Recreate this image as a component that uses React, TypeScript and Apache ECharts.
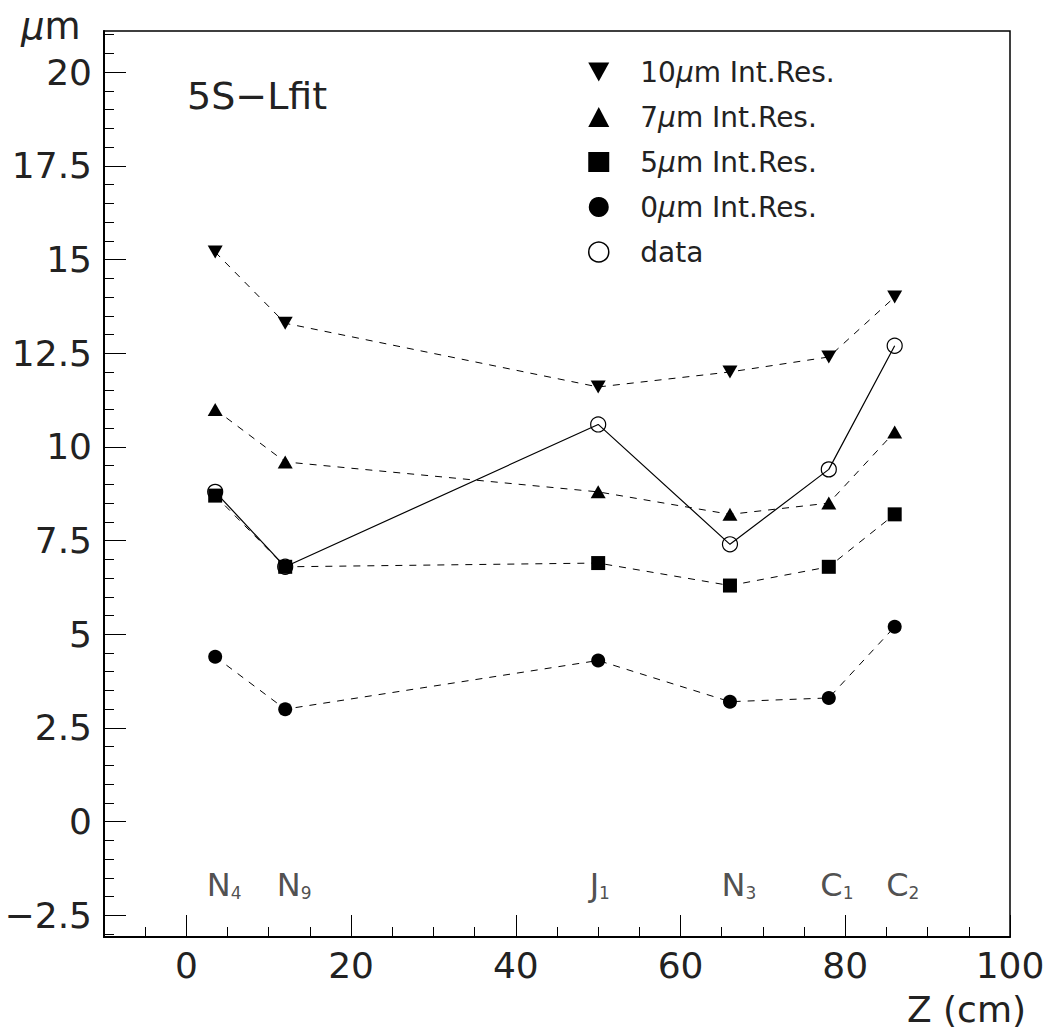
import React, { useEffect, useRef } from "react";
import * as echarts from "echarts";

// ---- data ----
const zPositions = [3.5, 12, 50, 66, 78, 86];
const siteNames = ["N", "N", "J", "N", "C", "C"];
const siteSubs = ["4", "9", "1", "3", "1", "2"];
const res10 = [15.2, 13.3, 11.6, 12.0, 12.4, 14.0];
const res7 = [11.0, 9.6, 8.8, 8.2, 8.5, 10.4];
const res5 = [8.7, 6.8, 6.9, 6.3, 6.8, 8.2];
const res0 = [4.4, 3.0, 4.3, 3.2, 3.3, 5.2];
const dataVals = [8.8, 6.8, 10.6, 7.4, 9.4, 12.7];
const seriesNames = ["10μm Int.Res.", "7μm Int.Res.", "5μm Int.Res.", "0μm Int.Res.", "data"];
const majorY = [-2.5, 0, 2.5, 5, 7.5, 10, 12.5, 15, 17.5, 20];
const majorX = [0, 20, 40, 60, 80, 100];

const FONT = '"DejaVu Sans", "Liberation Sans", sans-serif';
const TXT = "#222";
const DOWN_TRI = "path://M0,0L20,0L10,18Z";

export default function App() {
  const ref = useRef<HTMLDivElement>(null);
  useEffect(() => {
    if (!ref.current) return;
    const chart = echarts.init(ref.current, undefined, { renderer: "svg" });
    const minorY: number[] = [];
    for (let i = -6; i <= 42; i++) minorY.push(i * 0.5);
    const minorX: number[] = [];
    for (let i = -1; i <= 19; i++) minorX.push(i * 5);
    const pts = (vals: number[]) => zPositions.map((z, i) => [z, vals[i]]);
    const dashed = { color: "#000", width: 1, type: [7, 7] as any };
    const labelY = -2.15;

    chart.setOption({
      animation: false,
      backgroundColor: "#fff",
      grid: {
        left: 104,
        right: 40,
        top: 31,
        bottom: 95,
        show: true,
        borderColor: "#000",
        borderWidth: 1.5,
        backgroundColor: "transparent",
      },
      xAxis: [
        {
          type: "value",
          min: -10,
          max: 100,
          position: "bottom",
          axisLine: { show: true, onZero: false, lineStyle: { color: "#000", width: 2 } },
          axisTick: { show: true, inside: true, length: 22, customValues: majorX, lineStyle: { color: "#000", width: 1 } },
          axisLabel: { customValues: majorX, fontSize: 36, fontFamily: FONT, color: TXT, margin: 10 },
          splitLine: { show: false },
        },
        {
          type: "value",
          min: -10,
          max: 100,
          position: "bottom",
          offset: 0,
          axisLine: { show: false, onZero: false },
          axisTick: { show: true, inside: true, length: 10, customValues: minorX, lineStyle: { color: "#000", width: 1 } },
          axisLabel: { show: false },
          splitLine: { show: false },
        },
      ],
      yAxis: [
        {
          type: "value",
          min: -3.08,
          max: 21.1,
          position: "left",
          axisLine: { show: true, onZero: false, lineStyle: { color: "#000", width: 2 } },
          axisTick: { show: true, inside: true, length: 22, customValues: majorY, lineStyle: { color: "#000", width: 1 } },
          axisLabel: {
            customValues: majorY,
            fontSize: 36,
            fontFamily: FONT,
            color: TXT,
            margin: 12,
            formatter: (v: number) => (v < 0 ? "−" + String(Math.abs(v)) : String(v)),
          },
          splitLine: { show: false },
        },
        {
          type: "value",
          min: -3.08,
          max: 21.1,
          position: "left",
          offset: 0,
          axisLine: { show: false, onZero: false },
          axisTick: { show: true, inside: true, length: 10, customValues: minorY, lineStyle: { color: "#000", width: 1 } },
          axisLabel: { show: false },
          splitLine: { show: false },
        },
      ],
      legend: {
        orient: "vertical",
        left: 588,
        top: 58,
        padding: 0,
        itemWidth: 21,
        itemHeight: 20,
        itemGap: 17,
        selectedMode: false,
        textStyle: {
          fontSize: 28,
          lineHeight: 28,
          fontFamily: FONT,
          color: TXT,
          padding: [0, 0, 0, 26],
          rich: { i: { fontStyle: "italic", fontSize: 28, fontFamily: FONT, color: TXT } },
        },
        formatter: (name: string) => name.replace("μ", "{i|μ}"),
        data: [
          { name: seriesNames[0], icon: DOWN_TRI },
          { name: seriesNames[1], icon: "triangle" },
          { name: seriesNames[2], icon: "rect" },
          { name: seriesNames[3], icon: "circle" },
          {
            name: seriesNames[4],
            icon: "circle",
            itemStyle: { color: "rgba(0,0,0,0)", borderColor: "#000", borderWidth: 1.5 },
          },
        ],
      },
      graphic: [
        {
          type: "text",
          x: 187,
          y: 96,
          style: { text: "5S−Lfit", fontSize: 38, fontFamily: FONT, fill: TXT, align: "left", verticalAlign: "middle" },
        },
        {
          type: "text",
          x: 21,
          y: 26,
          style: {
            text: "{i|μ}m",
            fontSize: 37,
            fontFamily: FONT,
            fill: TXT,
            align: "left",
            verticalAlign: "middle",
            rich: { i: { fontStyle: "italic", fontSize: 37, fontFamily: FONT, fill: TXT } },
          },
        },
        {
          type: "text",
          x: 1026,
          y: 1009,
          style: { text: "Z (cm)", fontSize: 36, fontFamily: FONT, fill: TXT, align: "right", verticalAlign: "middle" },
        },
      ],
      series: [
        {
          name: seriesNames[4],
          type: "line",
          data: pts(dataVals),
          symbol: "circle",
          symbolSize: 15,
          lineStyle: { color: "#000", width: 1.2 },
          itemStyle: { color: "rgba(0,0,0,0)", borderColor: "#000", borderWidth: 1.2 },
          silent: true,
          z: 2,
        },
        {
          name: seriesNames[0],
          type: "line",
          data: pts(res10),
          symbol: DOWN_TRI,
          symbolSize: [15, 13],
          lineStyle: dashed,
          itemStyle: { color: "#000" },
          silent: true,
          z: 3,
        },
        {
          name: seriesNames[1],
          type: "line",
          data: pts(res7),
          symbol: "triangle",
          symbolSize: [15, 13],
          lineStyle: dashed,
          itemStyle: { color: "#000" },
          silent: true,
          z: 3,
        },
        {
          name: seriesNames[2],
          type: "line",
          data: pts(res5),
          symbol: "rect",
          symbolSize: 14,
          lineStyle: dashed,
          itemStyle: { color: "#000" },
          silent: true,
          z: 3,
        },
        {
          name: seriesNames[3],
          type: "line",
          data: pts(res0),
          symbol: "circle",
          symbolSize: 14,
          lineStyle: dashed,
          itemStyle: { color: "#000" },
          silent: true,
          z: 3,
        },
        {
          name: "sites",
          type: "scatter",
          data: zPositions.map((z) => [z, labelY]),
          symbolSize: 1,
          itemStyle: { color: "rgba(0,0,0,0)" },
          silent: true,
          label: {
            show: true,
            position: [-8, 0],
            align: "left",
            verticalAlign: "bottom",
            formatter: (p: any) => `{b|${siteNames[p.dataIndex]}}{s|${siteSubs[p.dataIndex]}}`,
            rich: {
              b: { fontSize: 32, lineHeight: 34, fontFamily: FONT, color: TXT },
              s: { fontSize: 17, lineHeight: 16, fontFamily: FONT, color: TXT, verticalAlign: "bottom" },
            },
          },
        },
      ],
    });
    return () => chart.dispose();
  }, []);
  return (
    <div
      ref={ref}
      style={{ position: "absolute", left: 0, top: 0, width: 1050, height: 1032, background: "#fff" }}
    />
  );
}
